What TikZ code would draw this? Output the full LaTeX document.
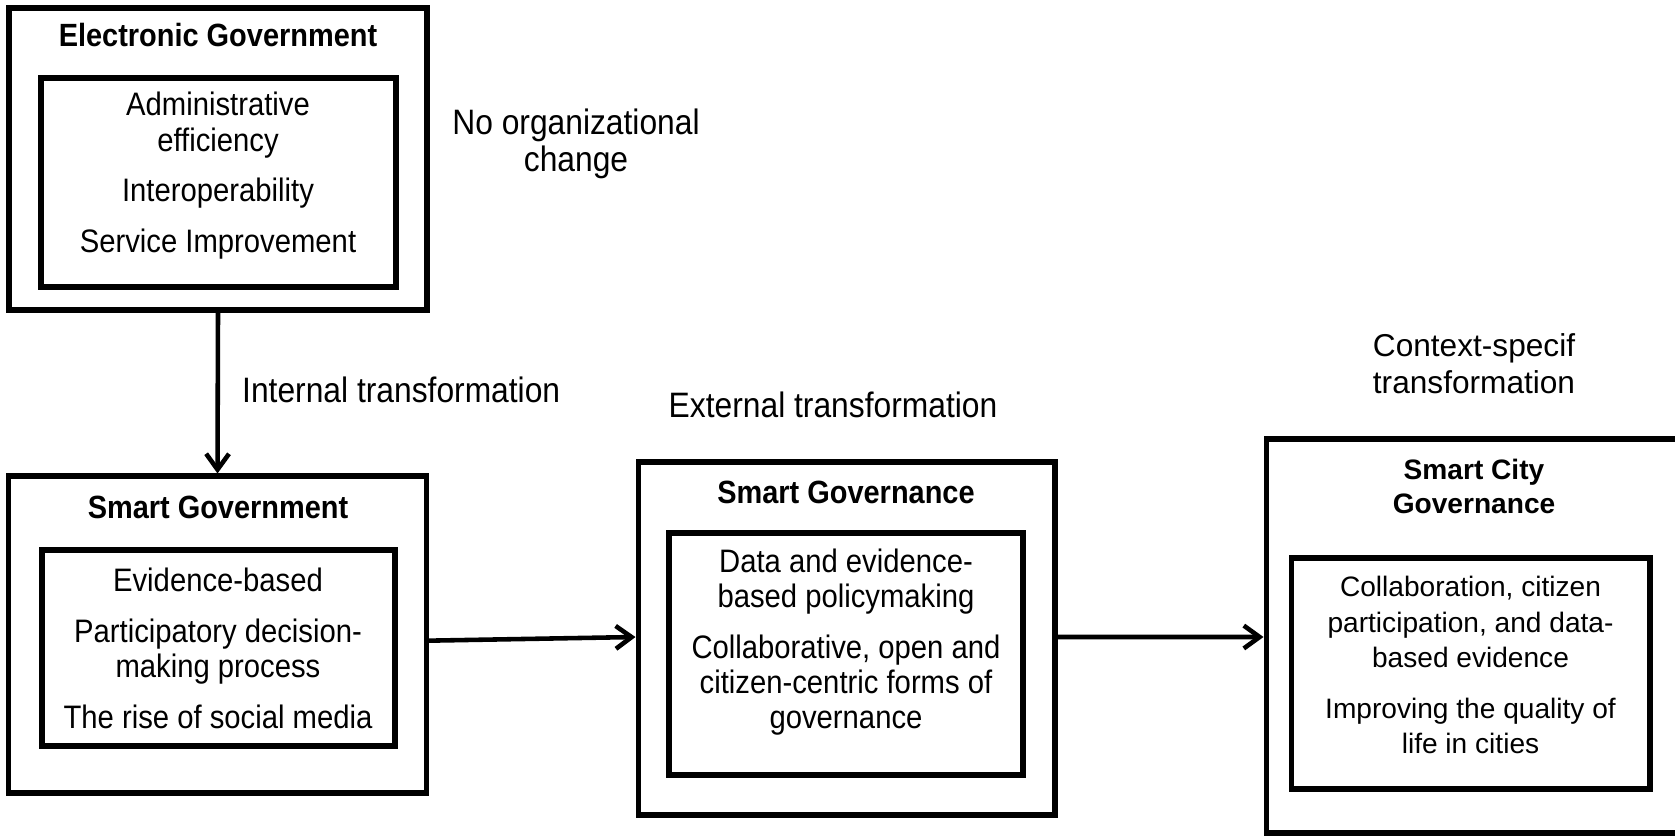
\documentclass[tikz,border=0pt]{standalone}
\usepackage{fontspec}
\setmainfont{Liberation Sans}
\newfontfamily\narrowsf[FakeStretch=0.9]{Liberation Sans}
\usepackage{tikz}
\usetikzlibrary{positioning}
\usetikzlibrary{arrows.meta}

\begin{document}
\begin{tikzpicture}[
        x = 0.02cm, y = -0.02cm,
        outerbox/.style 2 args = {
            draw,
            line width = 2.9pt,
            minimum width = #1,
            minimum height = #2,
            inner sep = 0pt
        },
        innerbox/.style 2 args = {
            draw,
            line width = 2.9pt,
            minimum width = #1,
            minimum height = #2,
            inner sep = 0pt
        },
        boxtitle/.style = {
            font = \narrowsf\bfseries\fontsize{18.3}{20}\selectfont,
            align = center
        },
        boxitems/.style = {
            font = \narrowsf\fontsize{18.5}{20}\selectfont,
            align = center
        },
        steplabel/.style = {
            font = \narrowsf\fontsize{20.1}{21}\selectfont,
            align = center
        },
        >={Straight Barb[length=9pt, width=13pt]}
        ]
        \useasboundingbox (0,0) rectangle (1675,835);
%
        \node[outerbox={8.36cm}{6.04cm}] (eg) at (218,159) {};
        \node[innerbox={7.1cm}{4.18cm}] (eginner) at (218.5,182.5) {};
        \node[boxtitle] (egtitle) at (218,35) {Electronic Government};
        \node[boxitems] (egitems) at (218,176) {Administrative\\efficiency\\[9pt]Interoperability\\[9pt]Service Improvement};
%
        \node[outerbox={8.36cm}{6.34cm}] (sg) at (217.5,634.5) {};
        \node[innerbox={7.06cm}{3.92cm}] (sginner) at (218.5,648) {};
        \node[boxtitle] (sgtitle) at (218,507) {Smart Government};
        \node[boxitems] (sgitems) at (218,648) {Evidence-based\\[9pt]Participatory decision-\\making process\\[9pt]The rise of social media};
%
        \node[outerbox={8.34cm}{7.06cm}] (sgov) at (846.5,638.5) {};
        \node[innerbox={7.08cm}{4.84cm}] (sgovinner) at (846,654) {};
        \node[boxtitle] (sgovtitle) at (846,492) {Smart Governance};
        \node[boxitems] (sgovitems) at (846,642) {Data and evidence-\\based policymaking\\[9pt]Collaborative, open and\\citizen-centric forms of\\governance};
%
        \node[outerbox={8.68cm}{7.88cm}] (sc) at (1483,636) {};
        \node[innerbox={7.18cm}{4.62cm}] (scinner) at (1470.5,673.5) {};
        \node[boxtitle, font=\bfseries\fontsize{16}{19.4}\selectfont] (sctitle) at (1474,486) {Smart City\\Governance};
        \node[boxitems, font=\fontsize{16}{20}\selectfont] (scitems) at (1470.5,665) {Collaboration, citizen\\participation, and data-\\based evidence\\[9pt]Improving the quality of\\life in cities};
%
        \node[steplabel] (nochange) at (576,144) {No organizational\\change};
        \node[steplabel, anchor=west] (internal) at (236,390) {Internal transformation};
        \node[steplabel] (external) at (833,405) {External transformation};
        \node[steplabel, font=\fontsize{18}{21}\selectfont] (context) at (1474,363.5) {Context-specif\\transformation};
%
        \draw[->, line width = 2.6pt] (eg.south) -- (sg.north);
        \draw[->, line width = 2.6pt] ([yshift=-3.5pt]sg.east) -- ([yshift=0.85pt]sgov.west);
        \draw[->, line width = 2.6pt] ([yshift=0.85pt]sgov.east) -- ([yshift=-0.57pt]sc.west);
\end{tikzpicture}
\end{document}
